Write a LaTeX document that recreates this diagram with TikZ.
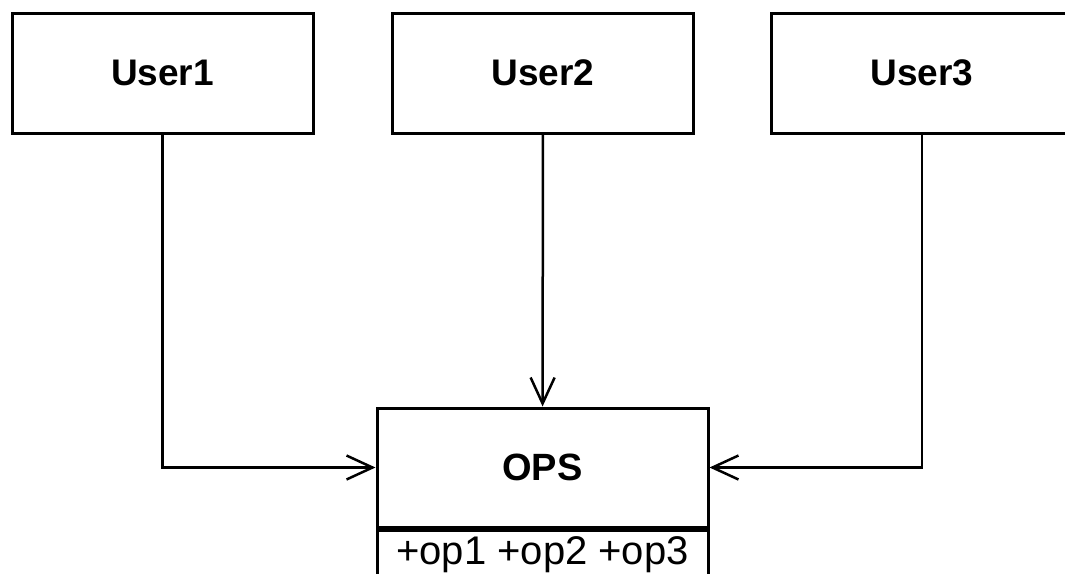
\documentclass[tikz,border=0pt]{standalone}
\usepackage{fontspec}
\setmainfont{Liberation Sans}
\usetikzlibrary{positioning, arrows.meta}

\begin{document}
\begin{tikzpicture}[x=1pt, y=-1pt, line width=3pt,
    >={Straight Barb[length=26pt, width=24pt]},
    user/.style={draw, rectangle, minimum width=301pt, minimum height=120pt,
        inner sep=0pt, font=\fontsize{37}{44}\selectfont\bfseries},
    ops/.style={draw, rectangle, minimum width=331pt, minimum height=119pt,
        inner sep=0pt, font=\fontsize{38}{46}\selectfont\bfseries},
    opsrow/.style={draw, rectangle, minimum width=331pt, minimum height=50pt,
        inner sep=0pt, font=\fontsize{40}{48}\selectfont}]
    \useasboundingbox (0,0) rectangle (1065,573);
    	\node[user] (u1) at (162.5,73) {User1};
    	\node[user] (u2) at (543,73)   {User2};
    	\node[user] (u3) at (922,73)   {User3};
    	\node[ops] (ops) at (542.5,467.5) {OPS};
    	\node[opsrow, anchor=north] (oprow) at (ops.south) {+op1 +op2 +op3};
    	\draw[->, line width=2.5pt] (u1) |- (ops);
    	\draw[->, line width=2.5pt] (u2) -- (ops);
    	\draw[->, line width=2.5pt] (u3) |- (ops);
    \end{tikzpicture}
\end{document}
